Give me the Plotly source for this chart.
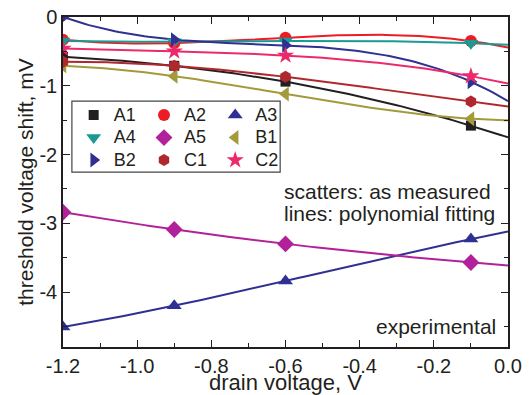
import numpy as np
import plotly.graph_objects as go

# ---- data ----
drain_v = [-1.2, -0.9, -0.6, -0.1]
A1 = [-0.58, -0.71, -0.94, -1.58]
A2 = [-0.33, -0.38, -0.30, -0.35]
A3 = [-4.51, -4.20, -3.84, -3.23]
A4 = [-0.35, -0.36, -0.35, -0.38]
A5 = [-2.84, -3.09, -3.30, -3.57]
B1 = [-0.71, -0.86, -1.12, -1.48]
B2 = [0.00, -0.33, -0.41, -0.94]
C1 = [-0.65, -0.71, -0.87, -1.23]
C2 = [-0.46, -0.50, -0.56, -0.86]

names = ["A1", "A2", "A3", "A4", "A5", "B1", "B2", "C1", "C2"]
series = [A1, A2, A3, A4, A5, B1, B2, C1, C2]

x_tick_vals = [-1.2, -1.0, -0.8, -0.6, -0.4, -0.2, 0.0]
x_tick_text = ["-1.2", "-1.0", "-0.8", "-0.6", "-0.4", "-0.2", "0.0"]
y_tick_vals = [0, -1, -2, -3, -4]
y_tick_text = ["0", "-1", "-2", "-3", "-4"]

# ---- styles ----
colors = {
    "A1": "#231f20", "A2": "#ed1c24", "A3": "#2e3192", "A4": "#1b9a93",
    "A5": "#b2219a", "B1": "#a39a3b", "B2": "#2e3192", "C1": "#b0282e",
    "C2": "#ec2a6b",
}
symbols = {
    "A1": "square", "A2": "circle", "A3": "triangle-up", "A4": "triangle-down",
    "A5": "diamond", "B1": "triangle-left", "B2": "triangle-right",
    "C1": "hexagon", "C2": "star",
}
sizes = {"A1": 10, "A2": 12, "A3": 13, "A4": 13, "A5": 13, "B1": 13,
         "B2": 13, "C1": 12, "C2": 13}
legend_of = {"A1": "legend", "A4": "legend", "B2": "legend",
             "A2": "legend2", "A5": "legend2", "C1": "legend2",
             "A3": "legend3", "B1": "legend3", "C2": "legend3"}

FONT = "Liberation Sans, Arial, sans-serif"
INK = "#231f20"
fig = go.Figure()

xfit = np.linspace(-1.2, 0.0, 121)
for n, s in zip(names, series):
    coef = np.polyfit(drain_v, s, 3)
    fig.add_trace(go.Scatter(x=xfit, y=np.polyval(coef, xfit), mode="lines",
                             line=dict(color=colors[n], width=2),
                             showlegend=False, hoverinfo="skip", cliponaxis=True))

for n, s in zip(names, series):
    fig.add_trace(go.Scatter(x=drain_v, y=s, mode="markers",
                             name='<span style="font-size:18px">%s</span>' % n,
                             marker=dict(symbol=symbols[n], color=colors[n],
                                         size=sizes[n], line=dict(width=0)),
                             legend=legend_of[n], cliponaxis=True))

leg_common = dict(bgcolor="rgba(0,0,0,0)", borderwidth=0,
                  font=dict(family=FONT, size=15, color=INK),
                  orientation="v", xanchor="left", yanchor="top",
                  tracegroupgap=0, itemwidth=30)

# the page body has an 8px margin, so the figure is sized to end at the window edge
fig.update_layout(
    width=523, height=387,
    margin=dict(l=55, r=23, t=9, b=48, autoexpand=False),
    paper_bgcolor="white", plot_bgcolor="white",
    font=dict(family=FONT, size=21, color=INK),
    showlegend=True,
    legend=dict(x=0.024, y=0.752, **leg_common),
    legend2=dict(x=0.182, y=0.752, **leg_common),
    legend3=dict(x=0.342, y=0.752, **leg_common),
    xaxis=dict(range=[-1.2, 0.0], tickvals=x_tick_vals, ticktext=x_tick_text,
               ticks="inside", ticklen=7, tickwidth=1, tickcolor=INK,
               showline=True, linecolor=INK, linewidth=1.5, mirror="ticks",
               showgrid=False, zeroline=False, automargin=True,
               ticklabeloverflow="allow",
               minor=dict(dtick=0.1, tick0=0, ticks="inside", ticklen=4,
                          tickcolor=INK, showgrid=False),
               title=dict(text="drain voltage, V", standoff=3,
                          font=dict(family=FONT, size=22)),
               tickfont=dict(family=FONT, size=20)),
    yaxis=dict(range=[-4.8, 0.0], tickvals=y_tick_vals, ticktext=y_tick_text,
               ticks="inside", ticklen=7, tickwidth=1, tickcolor=INK,
               showline=True, linecolor=INK, linewidth=1.5, mirror="ticks",
               showgrid=False, zeroline=False, automargin=True,
               ticklabeloverflow="allow",
               minor=dict(dtick=0.5, tick0=0, ticks="inside", ticklen=4,
                          tickcolor=INK, showgrid=False),
               title=dict(text="threshold voltage shift, mV", standoff=0,
                          font=dict(family=FONT, size=21)),
               tickfont=dict(family=FONT, size=20)),
    shapes=[dict(type="rect", xref="paper", yref="paper",
                 x0=0.020, x1=0.488, y0=0.530, y1=0.745,
                 line=dict(color="#444444", width=1.2), fillcolor="rgba(0,0,0,0)")],
    annotations=[
        dict(xref="paper", yref="paper", x=0.492, y=0.470, xanchor="left",
             yanchor="middle", showarrow=False, align="left",
             text="scatters: as measured", font=dict(family=FONT, size=21)),
        dict(xref="paper", yref="paper", x=0.492, y=0.406, xanchor="left",
             yanchor="middle", showarrow=False, align="left",
             text="lines: polynomial fitting", font=dict(family=FONT, size=21)),
        dict(xref="paper", yref="paper", x=0.978, y=0.061, xanchor="right",
             yanchor="middle", showarrow=False,
             text="experimental", font=dict(family=FONT, size=21)),
    ],
)

fig.write_html("out.html")
